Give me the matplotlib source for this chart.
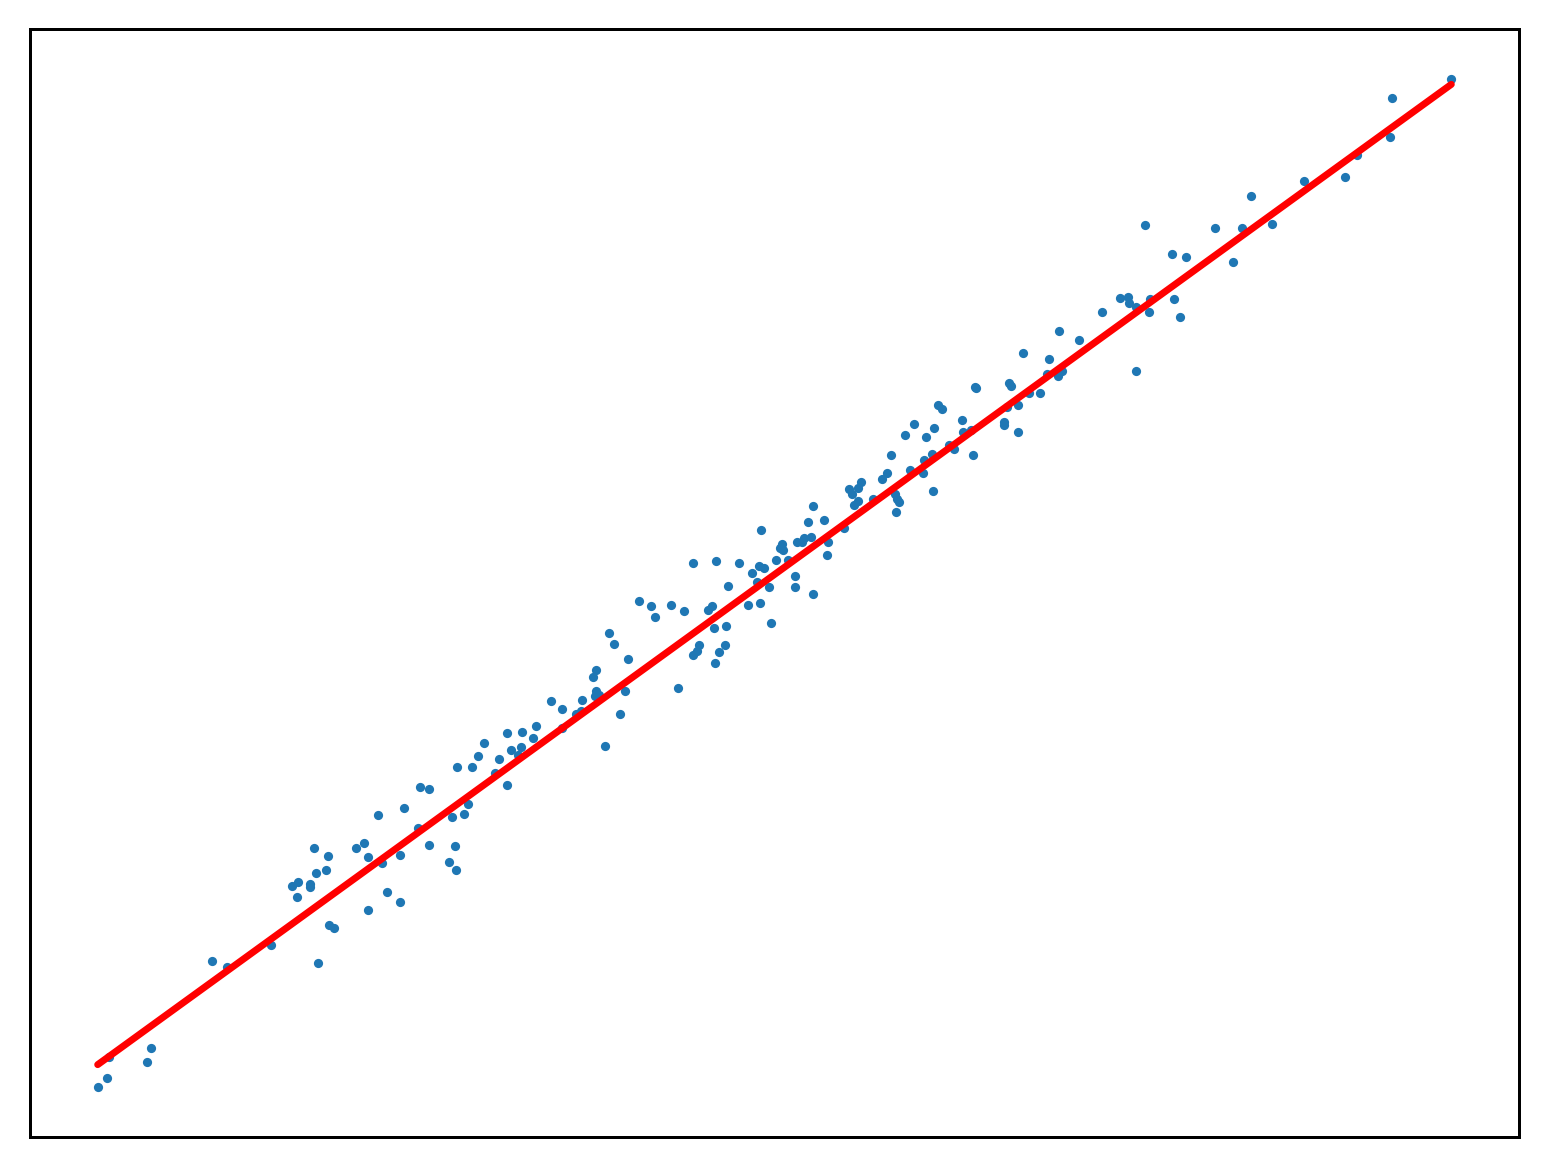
import matplotlib
matplotlib.use("Agg")
import matplotlib.pyplot as plt
import numpy as np

# values (arbitrary units, no ticks shown)
x_vals = [
    8, 17, 19, 57, 61, 122, 137, 181, 228, 239, 244,
    202, 207, 208, 220, 220, 224, 226, 236, 238, 266, 274, 278, 278, 288,
    292, 297, 310, 310, 314, 328, 330, 339, 339, 359, 362, 365, 366, 367,
    374, 378, 382, 388, 394, 405, 409, 417, 417, 421, 428, 431, 432, 443,
    446, 461, 472, 472, 486, 492, 491, 503, 505, 506, 506, 509, 515, 519,
    524, 530, 535, 538, 549, 561, 565, 581, 588, 594, 603, 603, 607, 609,
    618, 622, 624, 625, 626, 629, 635, 636, 638, 649, 658, 662, 667, 669,
    670, 671, 674, 679, 681, 685, 689, 691, 692, 697, 704, 704, 706, 711,
    713, 717, 720, 722, 722, 733, 736, 737, 753, 758, 761, 763, 767, 767,
    770, 782, 791, 796, 800, 804, 806, 808, 805, 814, 819, 823, 832, 833,
    835, 841, 842, 843, 847, 851, 858, 863, 871, 872, 880, 882, 884, 885,
    913, 913, 916, 918, 920, 927, 927, 932, 938, 949, 956, 958, 967, 968,
    971, 988, 1011, 1029, 1037, 1038, 1045, 1045, 1054, 1058, 1059, 1081,
    1083, 1089, 1095, 1124, 1142, 1151, 1160, 1181, 1213, 1254, 1266, 1299,
    1301, 1360,
]
y_vals = [
    12, 21, 42, 37, 51, 138, 132, 154, 136, 174, 171,
    213, 202, 217, 215, 212, 251, 226, 229, 243, 251, 256, 242, 189, 284,
    236, 207, 244, 197, 291, 271, 312, 310, 254, 237, 282, 253, 229, 332,
    285, 295, 332, 343, 356, 326, 340, 314, 366, 349, 344, 352, 367, 361,
    373, 398, 390, 371, 385, 399, 388, 422, 403, 429, 408, 404, 353, 466,
    455, 385, 408, 440, 498, 493, 482, 494, 411, 488, 536, 444, 448, 454,
    489, 493, 471, 436, 538, 447, 454, 473, 513, 536, 494, 526, 517, 533,
    496, 569, 531, 512, 476, 539, 551, 555, 549, 539, 523, 512, 557, 557,
    561, 577, 562, 593, 505, 579, 544, 557, 571, 610, 605, 594, 611, 598,
    617, 600, 620, 626, 644, 605, 600, 597, 587, 664, 629, 675, 626, 639,
    662, 645, 608, 671, 694, 690, 654, 650, 679, 667, 669, 644, 712, 711,
    677, 674, 692, 716, 713, 667, 694, 746, 706, 706, 725, 740, 723, 768,
    728, 759, 787, 801, 802, 796, 792, 728, 874, 787, 800, 845,
    800, 782, 842, 871, 837, 871, 903, 875, 918, 922, 944, 962,
    1001, 1020,
]

# fitted line as it appears in the reference
fit_slope = 0.7256
fit_intercept = 28.2

x = np.array(x_vals, dtype=float)
y = np.array(y_vals, dtype=float)

fig = plt.figure(figsize=(7.74, 5.84), dpi=200)
ax = fig.add_axes([30 / 1548, 31 / 1168, 1489 / 1548, 1108 / 1168])

ax.scatter(x, y, s=11, color="#1f77b4", linewidths=0)
ax.plot(x, fit_slope * x + fit_intercept, color="red", linewidth=2.5,
        solid_capstyle="round")

ax.set_xticks([])
ax.set_yticks([])
for spine in ax.spines.values():
    spine.set_linewidth(1.08)

fig.savefig("out.png", dpi=200)
